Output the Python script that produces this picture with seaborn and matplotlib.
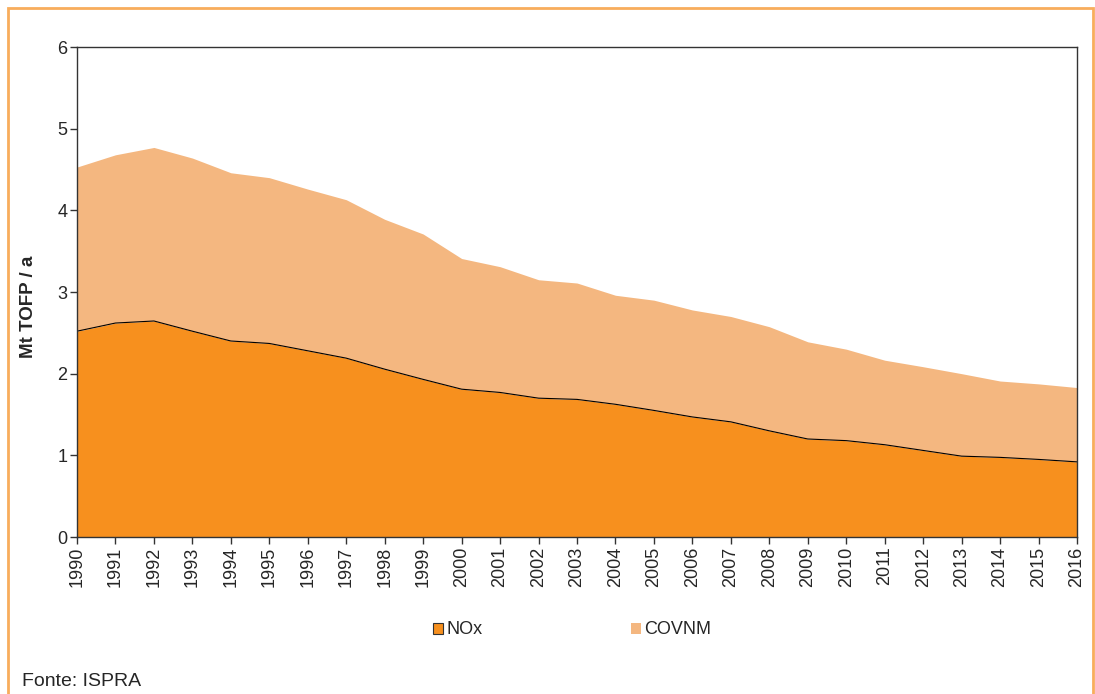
import numpy as np
import pandas as pd
import matplotlib.pyplot as plt
import matplotlib.patches as mpatches
import seaborn as sns

# Data (Mt TOFP / a)
years = list(range(1990, 2017))
nox = [2.52, 2.62, 2.645, 2.52, 2.40, 2.37, 2.28, 2.19, 2.055, 1.93, 1.81, 1.77,
       1.70, 1.685, 1.625, 1.55, 1.47, 1.41, 1.30, 1.20, 1.18, 1.13, 1.06, 0.99,
       0.975, 0.95, 0.92]
total = [4.53, 4.68, 4.77, 4.64, 4.46, 4.40, 4.26, 4.13, 3.89, 3.71, 3.41, 3.31,
         3.15, 3.11, 2.96, 2.90, 2.78, 2.70, 2.575, 2.39, 2.30, 2.165, 2.085, 2.00,
         1.91, 1.875, 1.83]
covnm = [t - n for t, n in zip(total, nox)]

df = pd.DataFrame({'year': years, 'NOx': nox, 'COVNM': covnm})

nox_color = '#F7901E'
covnm_color = '#F4B780'

sns.set_theme(style='white')
plt.rcParams['font.family'] = ['Liberation Sans', 'DejaVu Sans']

fig = plt.figure(figsize=(10.95, 6.94), dpi=100)
ax = fig.add_axes([77 / 1095, 1 - 537 / 694, 1000 / 1095, 490 / 694])

# Stacked areas
ax.stackplot(df['year'], df['NOx'], df['COVNM'], colors=[nox_color, covnm_color], lw=0)
sns.lineplot(x='year', y='NOx', data=df, color='black', lw=0.8, ax=ax)

ax.set_xlim(1990, 2016)
ax.set_ylim(0, 6)
ax.set_xticks(years)
ax.set_xticklabels([str(y) for y in years], rotation=90, fontsize=13)
ax.set_yticks(range(0, 7))
ax.set_yticklabels([str(v) for v in range(0, 7)], fontsize=13)
ax.tick_params(axis='both', direction='out', length=5, width=1, color='#333333',
               bottom=True, left=True, pad=2)
ax.set_xlabel('')
ax.set_ylabel('Mt TOFP / a', fontsize=13.5, fontweight='bold')
ax.yaxis.set_label_coords(-0.04, 0.47)
for s in ax.spines.values():
    s.set_color('#333333')
    s.set_linewidth(1)

# Legend
handles = [mpatches.Patch(facecolor=nox_color, edgecolor='#333333', lw=0.8, label='NOx'),
           mpatches.Patch(facecolor=covnm_color, edgecolor='none', label='COVNM')]
fig.legend(handles=handles, loc='center', bbox_to_anchor=(572 / 1095, 1 - 630 / 694), ncol=2,
           frameon=False, fontsize=13, handlelength=0.55, handleheight=0.55,
           handletextpad=0.2, columnspacing=8.2)

# Source note
fig.text(22 / 1095, 1 - 682 / 694, 'Fonte: ISPRA', fontsize=14, va='center', ha='left')

# Orange frame around the figure
frame = mpatches.Rectangle((8 / 1095, -0.05), 1085 / 1095, 1.05 - 8 / 694,
                           transform=fig.transFigure, fill=False,
                           edgecolor='#F8AD5C', lw=2, clip_on=False)
fig.patches.append(frame)

fig.savefig('out.png', dpi=100)
